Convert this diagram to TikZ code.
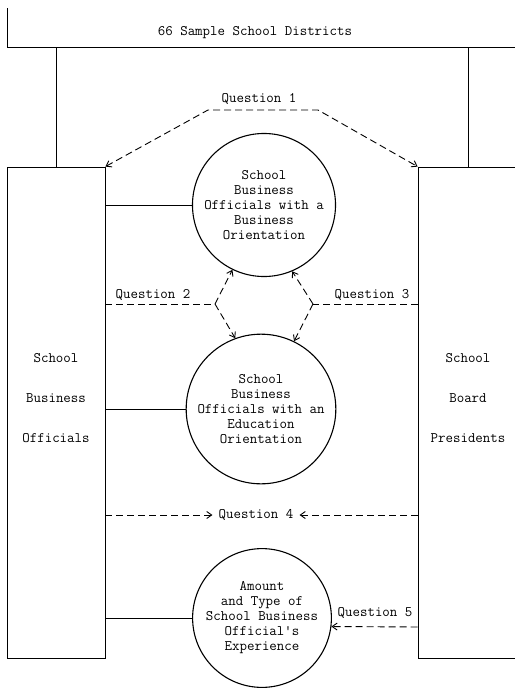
\documentclass[tikz,border=0pt]{standalone}
\usepackage{fontspec}
\usetikzlibrary{arrows.meta}
\tikzset{
  txt/.style={font=\ttfamily\addfontfeatures{FakeBold=0.8}\fontsize{14.5}{15}\selectfont, align=center, inner sep=2pt},
  sidebox/.style={draw, line width=0.8pt, rectangle, inner sep=0pt},
  bubble/.style={draw, line width=1.1pt, circle, minimum size=138pt, inner sep=0pt, txt},
  qline/.style={line width=0.9pt, dash pattern=on 7pt off 4pt},
  qarrow/.style={qline, -{Straight Barb[length=5pt,width=7pt]}},
}
\begin{document}
\begin{tikzpicture}[x=1pt,y=-1pt]
	\useasboundingbox (0,0) rectangle (514,688);
	% districts
	\node (districts)   at (255,33)  [txt] {66 Sample School Districts};
	\draw[line width=0.8pt] (7,8) -- (7,47) -- (520,47);
	%
	\node (sbo)   at (56,412.5)  [sidebox, minimum width=98pt, minimum height=491pt] {};
	\node (pres)   at (468,412.5)  [sidebox, minimum width=100pt, minimum height=491pt] {};
	\node (sbotext)   at (56,398)  [txt] {School\\[25pt]Business\\[25pt]Officials};
	\node (prestext)   at (468,398)  [txt] {School\\[25pt]Board\\[25pt]Presidents};
	%
	\node (circ1)   at (264,205)  [bubble] {School\\Business\\Officials with a\\Business\\Orientation};
	\node (circ2)   at (261,409)  [bubble] {School\\Business\\Officials with an\\Education\\Orientation};
	\node (circ3)   at (262,618)  [bubble] {Amount\\and Type of\\School Business\\Official\textquotesingle s\\Experience};
	%
	\draw[line width=0.5pt] (sbo.north) -- (sbo.north |- 0,47);
	\draw[line width=0.5pt] (pres.north) -- (pres.north |- 0,47);
	\draw[line width=0.8pt] (circ1.west) -- (circ1.west -| sbo.east);
	\draw[line width=0.8pt] (circ2.west) -- (circ2.west -| sbo.east);
	\draw[line width=0.8pt] (circ3.west) -- (circ3.west -| sbo.east);
	% 1
	\coordinate (q1l) at (208,110);
	\coordinate (q1r) at (318,110);
	\node (q1)   at (259,99)  [txt] {Question 1};
	\draw[qline, {Straight Barb[length=5pt,width=7pt]}-{Straight Barb[length=5pt,width=7pt]}]
		(sbo.north east) -- (q1l) -- (q1r) -- (pres.north west);
	% 2 and 3
	\coordinate (q2) at (215,304);
	\coordinate (q3) at (313,304);
	\node (q2lab)   at (153,295)  [txt] {Question 2};
	\node (q3lab)   at (372,295)  [txt] {Question 3};
	\draw[qline] (sbo.east |- q2) -- (q2);
	\draw[qline] (pres.west |- q3) -- (q3);
	\draw[qarrow] (q2) -- (circ1.244);
	\draw[qarrow] (q2) -- (circ2.110);
	\draw[qarrow] (q3) -- (circ1.293);
	\draw[qarrow] (q3) -- (circ2.64);
	% 4
	\node (q4)   at (256,515)  [txt, inner sep=6pt] {Question 4};
	\draw[qarrow] (sbo.east |- q4) -- (q4.west);
	\draw[qarrow] (pres.west |- q4) -- (q4.east);
	% 5
	\node (q5)   at (375,613)  [txt] {Question 5};
	\draw[qarrow] (pres.west |- 0,627) -- (circ3.-7);
\end{tikzpicture}
\end{document}
